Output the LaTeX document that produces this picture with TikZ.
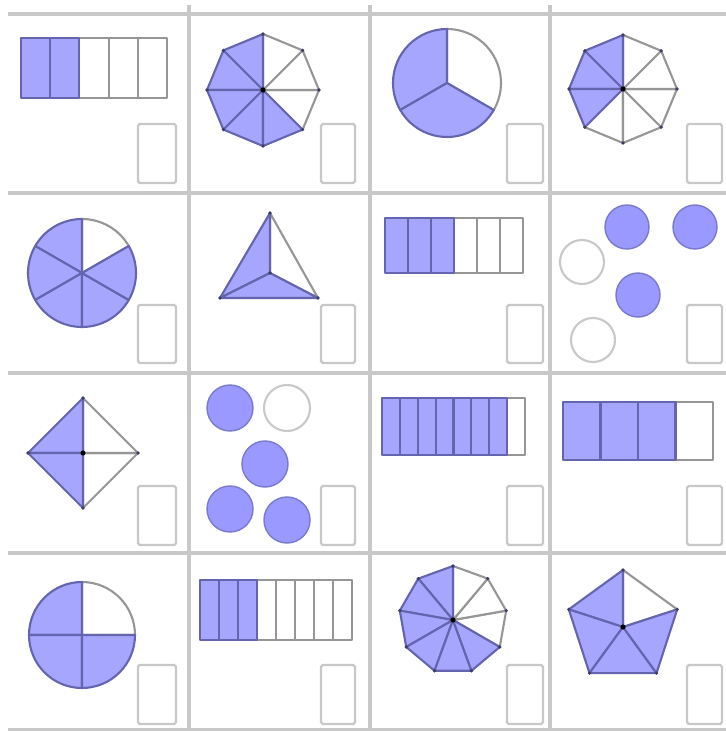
\documentclass[tikz,border=0pt]{standalone}
\usetikzlibrary{calc}

\definecolor{partfill}{RGB}{166,166,255}
\definecolor{dotfill}{RGB}{153,153,255}
\definecolor{partedge}{RGB}{100,100,175}
\definecolor{blankedge}{RGB}{150,150,150}
\definecolor{gridgray}{RGB}{200,200,200}

\begin{document}
\begin{tikzpicture}[x=0.02cm, y=0.02cm,
  gridline/.style={draw=gridgray, line width=1.8pt},
  answerbox/.style={draw=gridgray, line width=1.4pt, rounded corners=1pt},
  shadedpart/.style={fill=partfill, draw=partedge, line width=1.2pt, line join=round},
  blankpart/.style={fill=white, draw=blankedge, line width=1.2pt, line join=round},
  fulldot/.style={fill=dotfill, draw=dotfill!80!black, line width=0.8pt},
  emptydot/.style={fill=white, draw=gridgray, line width=1.2pt},
  cornerdot/.style={fill=partedge!60!black},
  centredot/.style={fill=black},
]
  \useasboundingbox (0,0) rectangle (726,731);
  % grid
  \foreach \y in {717,538,358,178,1} \draw[gridline] (8,\y) -- (726,\y);
  \foreach \x in {189,370,550} \draw[gridline] (\x,0) -- (\x,726);
  % answer boxes
  \foreach \xa/\xb in {138/176,321/355,507/543,687/722}
    \foreach \ya/\yb in {607/548,426/368,245/186,66/7}
      \draw[answerbox] (\xa,\ya) rectangle (\xb,\yb);

  % bars: left/top/right/bottom/parts/shaded
  \foreach \xa/\ya/\xb/\yb/\n/\k in {21/693/167/633/5/2, 385/513/523/458/6/3,
      382/333/525/276/8/7, 563/329/713/271/4/3, 200/151/352/91/8/3}{
    \pgfmathsetmacro\segw{(\xb-\xa)/\n}
    \foreach \i in {1,...,\n}{
      \pgfmathsetmacro\segl{\xa+(\i-1)*\segw}
      \pgfmathsetmacro\segr{\xa+\i*\segw}
      \ifnum\i>\k \draw[blankpart] (\segl,\ya) rectangle (\segr,\yb); \fi}
    \foreach \i in {1,...,\k}{
      \pgfmathsetmacro\segl{\xa+(\i-1)*\segw}
      \pgfmathsetmacro\segr{\xa+\i*\segw}
      \draw[shadedpart] (\segl,\ya) rectangle (\segr,\yb);}
  }

  % regular polygons: centre/radius/sides/shaded
  \foreach \cx/\cy/\rad/\n/\k in {263/641/56/8/5, 623/642/54/8/3,
      83/278/55/4/2, 453/111/54/9/6, 623/104/57/5/4}{
    \begin{scope}[shift={(\cx,\cy)}]
      \pgfmathsetmacro\da{360/\n}
      \foreach \i in {1,...,\n}{
        \pgfmathsetmacro\aa{90+(\i-1)*\da}
        \pgfmathsetmacro\ab{90+\i*\da}
        \ifnum\i>\k \draw[blankpart] (0,0) -- (\aa:\rad) -- (\ab:\rad) -- cycle; \fi}
      \foreach \i in {1,...,\k}{
        \pgfmathsetmacro\aa{90+(\i-1)*\da}
        \pgfmathsetmacro\ab{90+\i*\da}
        \draw[shadedpart] (0,0) -- (\aa:\rad) -- (\ab:\rad) -- cycle;}
      \foreach \i in {1,...,\n}
        \fill[cornerdot] ({90+\i*\da}:\rad) circle (1.8);
      \fill[centredot] (0,0) circle (2.6);
    \end{scope}
  }

  % pies: centre/radius/sectors/shaded
  \foreach \cx/\cy/\rad/\n/\k in {447/648/54/3/2, 82/458/54/6/5, 82/96/53/4/3}{
    \begin{scope}[shift={(\cx,\cy)}]
      \pgfmathsetmacro\da{360/\n}
      \foreach \i in {1,...,\n}{
        \pgfmathsetmacro\aa{90+(\i-1)*\da}
        \pgfmathsetmacro\ab{90+\i*\da}
        \ifnum\i>\k \draw[blankpart] (0,0) -- (\aa:\rad)
          arc[start angle=\aa, end angle=\ab, radius=\rad] -- cycle; \fi}
      \foreach \i in {1,...,\k}{
        \pgfmathsetmacro\aa{90+(\i-1)*\da}
        \pgfmathsetmacro\ab{90+\i*\da}
        \draw[shadedpart] (0,0) -- (\aa:\rad)
          arc[start angle=\aa, end angle=\ab, radius=\rad] -- cycle;}
    \end{scope}
  }

  % triangle split at an inner point
  \coordinate (T) at (270,518);
  \coordinate (L) at (220,433);
  \coordinate (R) at (318,433);
  \coordinate (O) at (270,458);
  \draw[blankpart] (O) -- (R) -- (T) -- cycle;
  \draw[shadedpart] (O) -- (T) -- (L) -- cycle;
  \draw[shadedpart] (O) -- (L) -- (R) -- cycle;
  \foreach \pt in {T,L,R,O} \fill[cornerdot] (\pt) circle (1.8);

  % sets of counters
  \foreach \x/\y in {627/504, 695/504, 638/436} \draw[fulldot] (\x,\y) circle (22);
  \foreach \x/\y in {582/469, 593/391} \draw[emptydot] (\x,\y) circle (22);
  \foreach \x/\y in {230/323, 265/267, 230/222, 287/211} \draw[fulldot] (\x,\y) circle (23);
  \draw[emptydot] (287,323) circle (23);
\end{tikzpicture}
\end{document}
